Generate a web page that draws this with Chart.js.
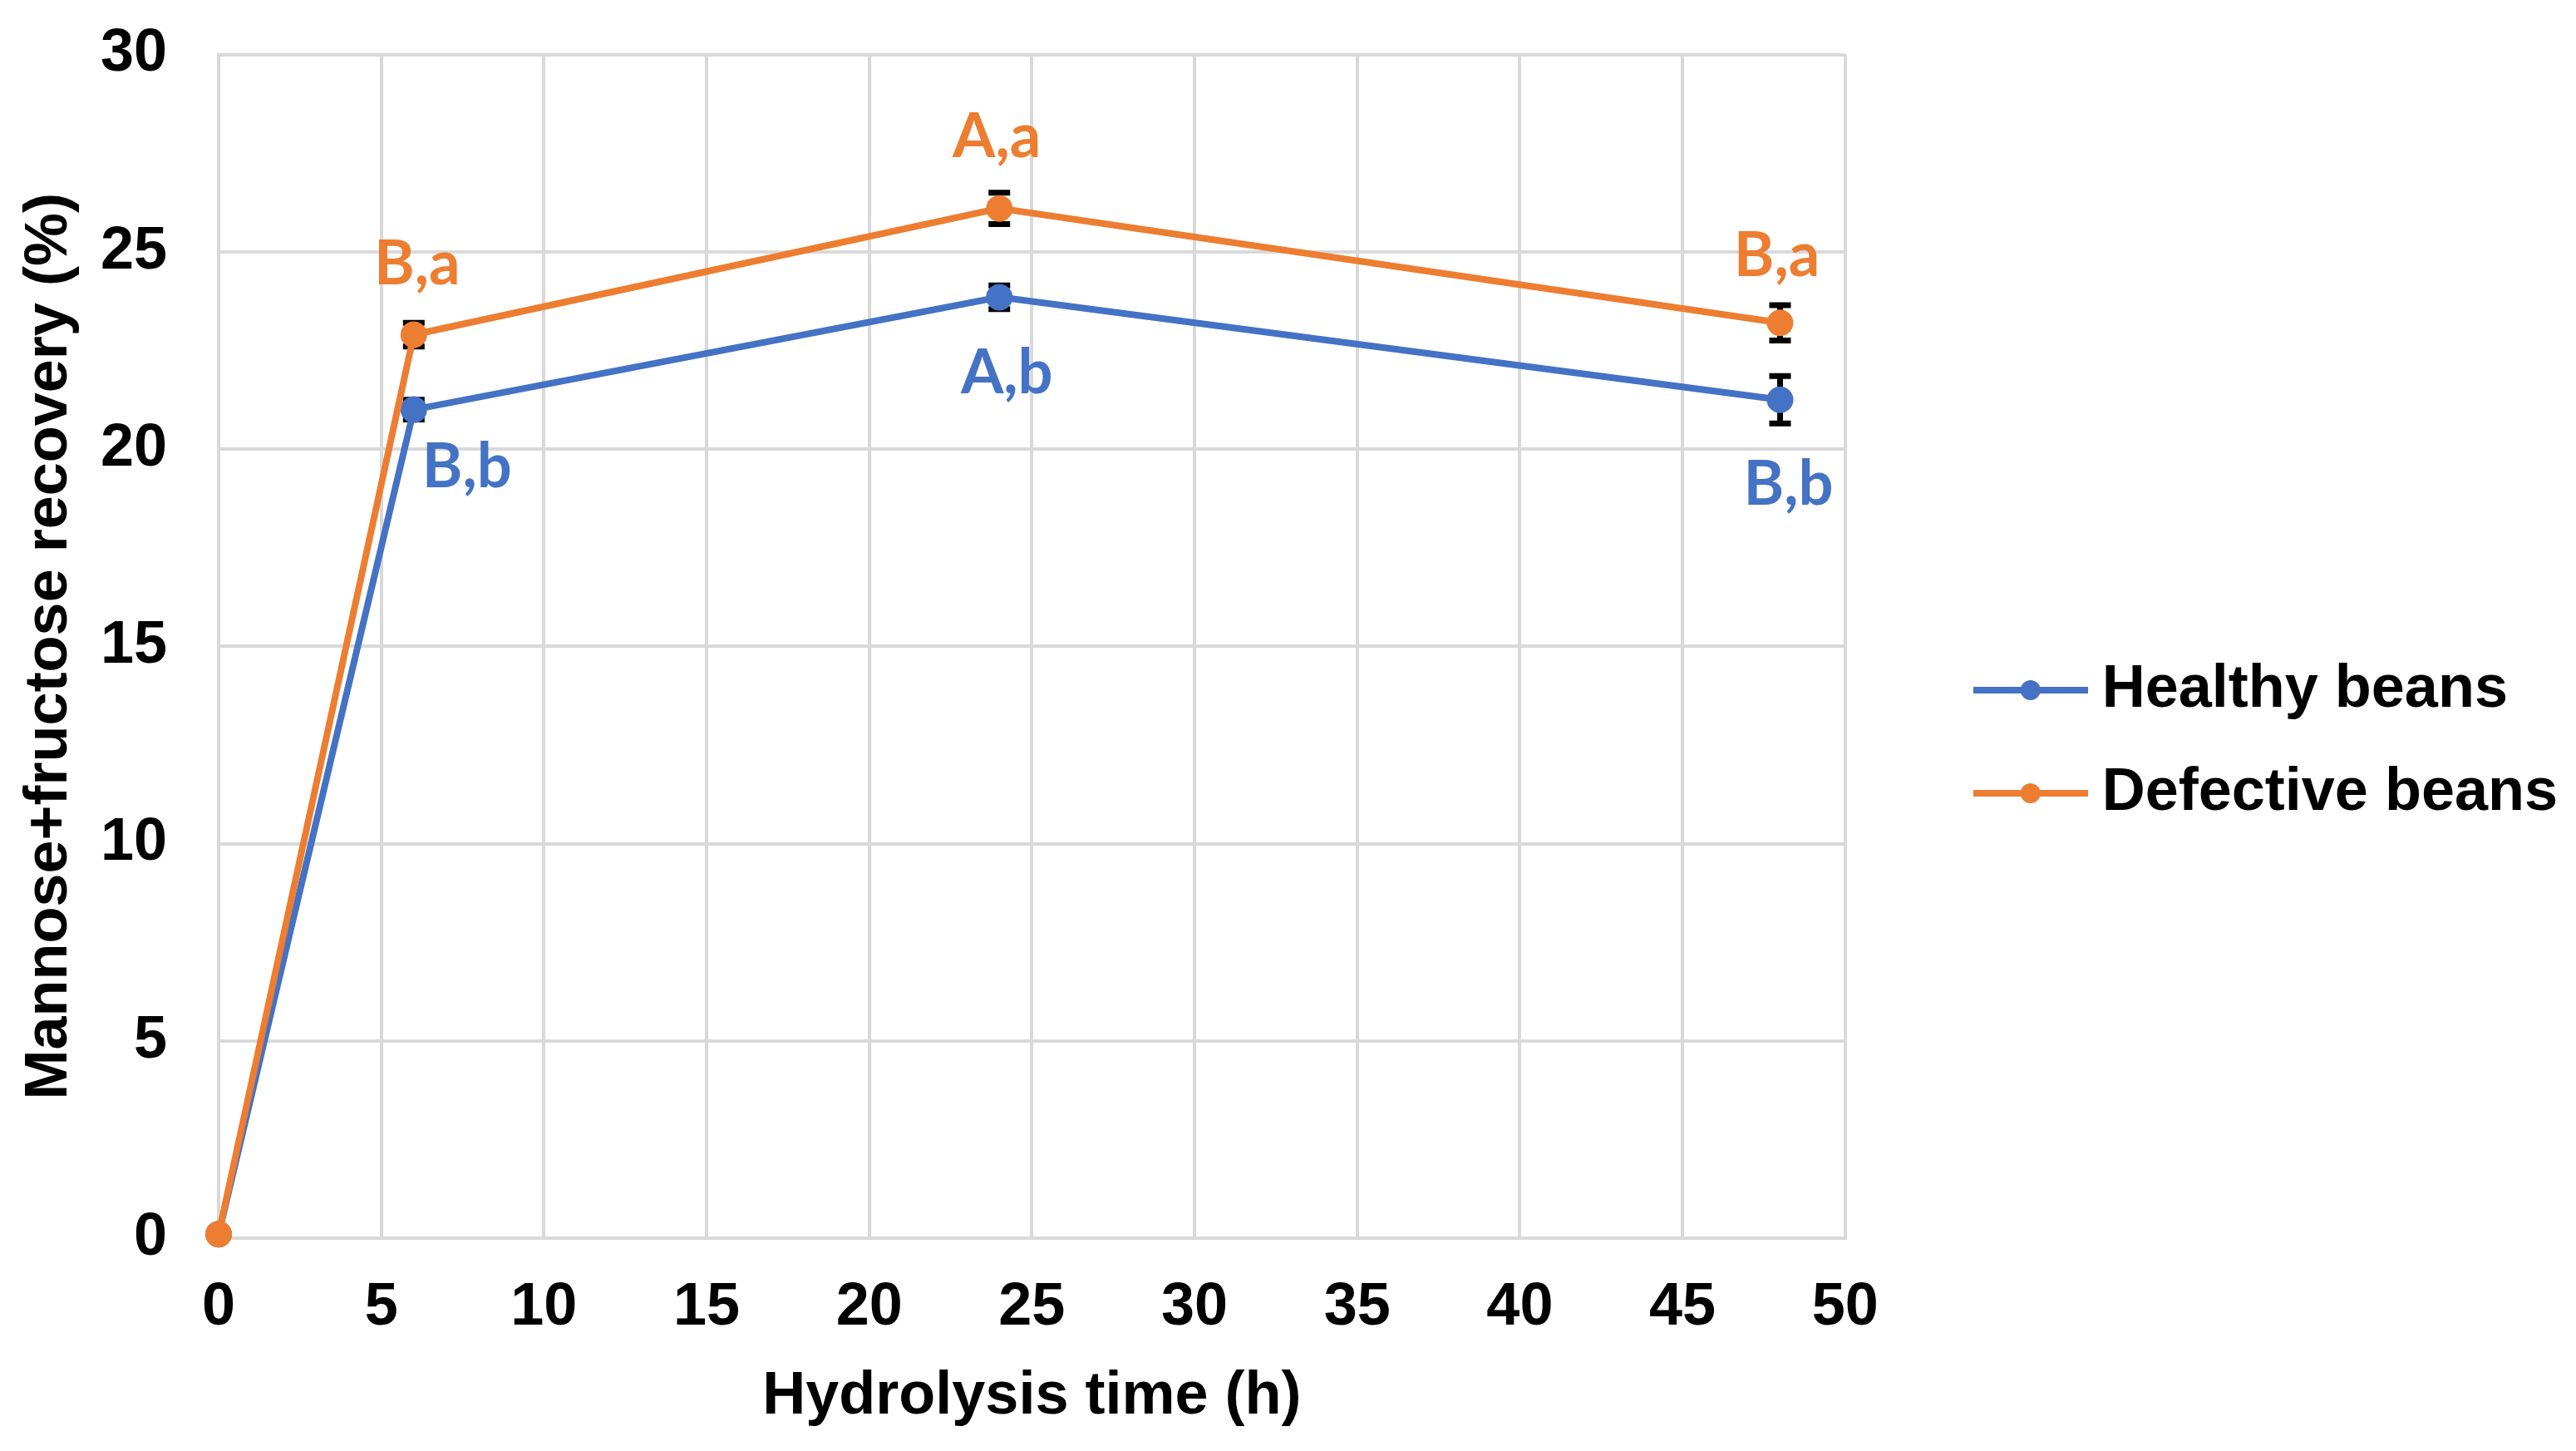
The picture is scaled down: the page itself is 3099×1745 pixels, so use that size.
<!DOCTYPE html>
<html><head><meta charset="utf-8">
<script src="https://cdn.jsdelivr.net/npm/chart.js@4.4.1/dist/chart.umd.min.js"></script>
<style>html,body{margin:0;padding:0;background:#fff;overflow:hidden}#wrap{width:3099px;height:1745px;position:relative}</style>
</head><body><div id="wrap"><canvas id="c"></canvas></div>
<script>
// ---- data ----
const hours = [0, 6, 24, 48];
const seriesNames = ["Healthy beans", "Defective beans"];
const healthyValues = [0.1, 21.0, 23.85, 21.25];
const healthyErrors = [0, 0.25, 0.3, 0.6];
const healthyLetters = ["", "B,b", "A,b", "B,b"];
const defectiveValues = [0.1, 22.9, 26.1, 23.2];
const defectiveErrors = [0, 0.3, 0.4, 0.45];
const defectiveLetters = ["", "B,a", "A,a", "B,a"];
const xTickLabels = [0, 5, 10, 15, 20, 25, 30, 35, 40, 45, 50];
const yTickLabels = [0, 5, 10, 15, 20, 25, 30];
const xTitle = "Hydrolysis time (h)";
const yTitle = "Mannose+fructose recovery (%)";

// ---- styles ----
const BLUE = '#4472C4', ORANGE = '#ED7D31', GRID = '#d9d9d9';
const axisFont = {family: "'Liberation Sans', Arial, sans-serif", size: 72, weight: 'bold'};
const yTickFont = {family: "'Liberation Sans', Arial, sans-serif", size: 72, weight: 'bold', lineHeight: 0.1};
const letterFont = "bold 74px Lato, 'Open Sans', sans-serif";
const healthyLabelOffsets = [[0,0],[64,70],[9,92],[10,102]];
const defectiveLabelOffsets = [[0,0],[4,-84],[-3,-86],[-4,-80]];

function legendSymbol(color){
  const c = document.createElement('canvas');
  c.width = 138; c.height = 40;
  const g = c.getContext('2d');
  g.strokeStyle = color; g.lineWidth = 8;
  g.beginPath(); g.moveTo(0,20); g.lineTo(138,20); g.stroke();
  g.fillStyle = color; g.beginPath(); g.arc(69,20,12,0,Math.PI*2); g.fill();
  return c;
}
const symbols = [legendSymbol(BLUE), legendSymbol(ORANGE)];

const series = [
  {values: healthyValues, errors: healthyErrors, letters: healthyLetters, offsets: healthyLabelOffsets, color: BLUE},
  {values: defectiveValues, errors: defectiveErrors, letters: defectiveLetters, offsets: defectiveLabelOffsets, color: ORANGE}
];

const extras = {
  id: 'extras',
  beforeDatasetsDraw(chart){
    const ctx = chart.ctx, xs = chart.scales.x, ys = chart.scales.y;
    ctx.save();
    ctx.strokeStyle = '#000'; ctx.lineWidth = 7; ctx.lineCap = 'butt';
    series.forEach(s => {
      s.values.forEach((v, j) => {
        const e = s.errors[j]; if (!e) return;
        const px = xs.getPixelForValue(hours[j]);
        const t = ys.getPixelForValue(v + e), b = ys.getPixelForValue(v - e);
        ctx.beginPath();
        ctx.moveTo(px, t); ctx.lineTo(px, b);
        ctx.moveTo(px - 13, t); ctx.lineTo(px + 13, t);
        ctx.moveTo(px - 13, b); ctx.lineTo(px + 13, b);
        ctx.stroke();
      });
    });
    ctx.restore();
  },
  afterDatasetsDraw(chart){
    const ctx = chart.ctx, xs = chart.scales.x, ys = chart.scales.y;
    ctx.save();
    ctx.font = letterFont; ctx.textAlign = 'center'; ctx.textBaseline = 'middle';
    series.forEach(s => {
      ctx.fillStyle = s.color;
      s.letters.forEach((txt, j) => {
        if (!txt) return;
        const px = xs.getPixelForValue(hours[j]) + s.offsets[j][0];
        const py = ys.getPixelForValue(s.values[j]) + s.offsets[j][1];
        ctx.fillText(txt, px, py);
      });
    });
    ctx.restore();
  }
};

new Chart(document.getElementById('c'), {
  type: 'line',
  data: {
    datasets: series.map((s, i) => ({
      label: seriesNames[i],
      data: hours.map((h, j) => ({x: h, y: s.values[j]})),
      borderColor: s.color, backgroundColor: s.color,
      pointBackgroundColor: s.color, pointBorderWidth: 0,
      borderWidth: 8, pointRadius: 16, tension: 0, clip: false,
      order: i === 0 ? 2 : 1
    }))
  },
  options: {
    responsive: true, maintainAspectRatio: false, animation: false,
    devicePixelRatio: 1,
    layout: {padding: {top: 61, bottom: 22, left: 0, right: 12}},
    plugins: {
      tooltip: {enabled: false},
      legend: {
        position: 'right', align: 'center', maxWidth: 900,
        labels: {
          usePointStyle: true, pointStyleWidth: 100, padding: 52,
          font: axisFont, color: '#000',
          generateLabels: () => seriesNames.map((n, i) => ({
            text: n, pointStyle: symbols[i], fillStyle: series[i].color,
            strokeStyle: series[i].color, lineWidth: 0, hidden: false,
            datasetIndex: i, fontColor: '#000'
          }))
        }
      }
    },
    scales: {
      x: {
        type: 'linear', min: xTickLabels[0], max: xTickLabels[xTickLabels.length-1],
        afterBuildTicks: s => { s.ticks = xTickLabels.map(v => ({value: v})); },
        ticks: {padding: 41, font: axisFont, color: '#000', maxRotation: 0, autoSkip: false},
        grid: {color: GRID, lineWidth: 4, drawTicks: false},
        border: {color: GRID, width: 4},
        title: {display: true, text: xTitle, font: axisFont, color: '#000', padding: {top: 0, bottom: 0}},
        afterFit: s => { s.height = 234; }
      },
      y: {
        type: 'linear', min: yTickLabels[0], max: yTickLabels[yTickLabels.length-1],
        afterBuildTicks: s => { s.ticks = yTickLabels.map(v => ({value: v})); },
        ticks: {padding: 62, font: yTickFont, color: '#000', autoSkip: false},
        grid: {color: GRID, lineWidth: 4, drawTicks: false},
        border: {color: GRID, width: 4},
        title: {display: true, text: yTitle, font: axisFont, color: '#000', padding: {top: 17, bottom: 0}},
        afterFit: s => { s.width = 263; }
      },
      gap: {
        type: 'linear', position: 'right', display: true,
        grid: {display: false}, ticks: {display: false}, border: {display: false},
        afterFit: s => { s.width = 121; }
      }
    }
  },
  plugins: [extras]
});
</script>
</body></html>
